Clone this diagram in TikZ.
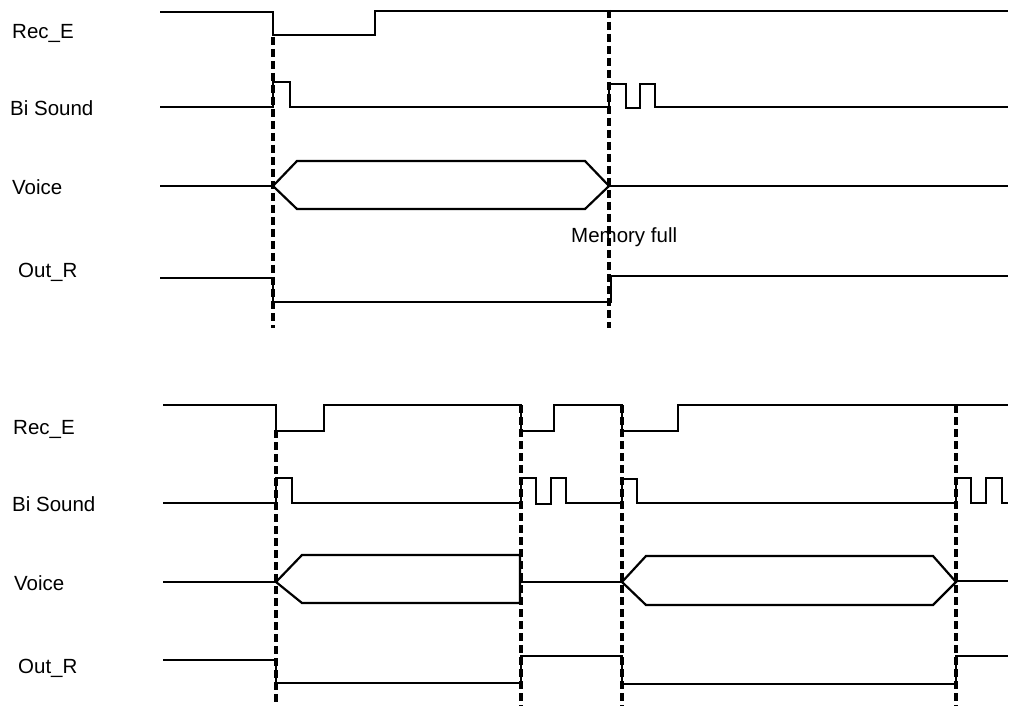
\documentclass[tikz,border=0pt]{standalone}
\usepackage{fontspec}
\setmainfont{Liberation Sans}
\usepackage{tikz}
\usetikzlibrary{calc}

\begin{document}
\begin{tikzpicture}[
            x=1pt, y=-1pt,
            font=\fontsize{20.5}{24}\selectfont,
            sig/.style={line width=2.2pt, line join=miter},
            guide/.style={line width=3.4pt, dash pattern=on 8pt off 4pt},
            lbl/.style={anchor=base west, inner sep=0pt}
        ]
        \useasboundingbox (0,0) rectangle (1013,706);

        % Start and end of the traces
        \def\xs{160}
        \def\xe{1008}

        % ===== Upper chart =====
        % Edge times
        \def\ta{273}   % record start
        \def\tb{609}   % memory full

        % --- Row labels ---
        \node[lbl] (recI)   at (12,39)  {Rec\_E};
        \node[lbl] (biI)    at (10,116) {Bi Sound};
        \node[lbl] (voiceI) at (12,195) {Voice};
        \node[lbl] (outI)   at (18,277) {Out\_R};
        \node[lbl] (memfull) at (571,242) {Memory full};

        % --- Row: Rec_E ---
        \draw[sig] (\xs,12) -- (\ta,12) -- (\ta,35) -- (375,35) -- (375,11) -- (\xe,11);

        % --- Row: Bi Sound ---
        \draw[sig] (\xs,107) -- (\ta,107) -- (\ta,82) -- (290,82) -- (290,107)
            -- (\tb,107) -- (\tb,84) -- (626,84) -- (626,108) -- (640,108)
            -- (640,84) -- (655,84) -- (655,107) -- (\xe,107);

        % --- Row: Voice ---
        \draw[sig] (\xs,186) -- (\ta,186);
        \draw[sig] (\ta,186) -- (297,161) -- (585,161) -- (\tb,186) -- (585,209) -- (297,209) -- cycle;
        \draw[sig] (\tb,186) -- (\xe,186);

        % --- Row: Out_R ---
        \draw[sig] (\xs,278) -- (\ta,278) -- (\ta,302) -- (611,302) -- (611,276) -- (\xe,276);

        % Vertical event guides
        \draw[guide] (\ta,37) -- (\ta,328);
        \draw[guide] (\tb,10) -- (\tb,328);

        % ===== Lower chart =====
        \def\xs{163}
        \def\tc{276}   % record start
        \def\td{521}   % record stop
        \def\te{622}   % record start again
        \def\tf{956}   % memory full

        % --- Row labels ---
        \node[lbl] (recII)   at (13,434) {Rec\_E};
        \node[lbl] (biII)    at (12,511) {Bi Sound};
        \node[lbl] (voiceII) at (14,590) {Voice};
        \node[lbl] (outII)   at (18,673) {Out\_R};

        % --- Row: Rec_E ---
        \draw[sig] (\xs,405) -- (\tc,405) -- (\tc,431) -- (324,431) -- (324,405)
            -- (\td,405) -- (\td,431) -- (554,431) -- (554,405)
            -- (\te,405) -- (\te,431) -- (678,431) -- (678,405) -- (\xe,405);

        % --- Row: Bi Sound ---
        \draw[sig] (\xs,503) -- (\tc,503) -- (\tc,478) -- (292,478) -- (292,503)
            -- (\td,503) -- (\td,478) -- (536,478) -- (536,504) -- (551,504)
            -- (551,478) -- (566,478) -- (566,503)
            -- (\te,503) -- (\te,479) -- (637,479) -- (637,503)
            -- (\tf,503) -- (\tf,478) -- (971,478) -- (971,503) -- (986,503)
            -- (986,478) -- (1002,478) -- (1002,503) -- (\xe,503);

        % --- Row: Voice ---
        \draw[sig] (\xs,582) -- (\tc,582);
        \draw[sig] (\tc,582) -- (302,555) -- (520,555) -- (520,603) -- (302,603) -- cycle;
        \draw[sig] (\td,582) -- (\te,582);
        \draw[sig] (\te,582) -- (646,556) -- (933,556) -- (\tf,582) -- (933,605) -- (646,605) -- cycle;
        \draw[sig] (\tf,581) -- (\xe,581);

        % --- Row: Out_R ---
        \draw[sig] (\xs,660) -- (\tc,660) -- (\tc,683) -- (\td,683) -- (\td,656)
            -- (\te,656) -- (\te,684) -- (\tf,684) -- (\tf,656) -- (\xe,656);

        % Vertical event guides
        \draw[guide] (\tc,430) -- (\tc,706);
        \foreach \t in {\td,\te,\tf}
            \draw[guide] (\t,405) -- (\t,706);

\end{tikzpicture}
\end{document}
